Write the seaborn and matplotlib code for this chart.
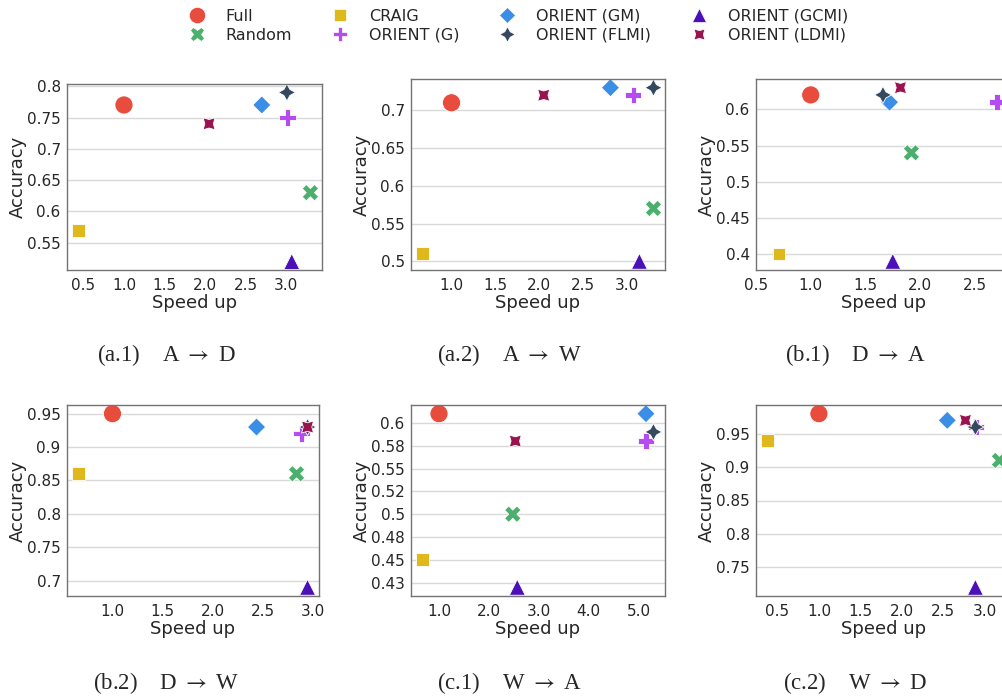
import numpy as np
import pandas as pd
import matplotlib
matplotlib.use("Agg")
import matplotlib.pyplot as plt
import seaborn as sns
from matplotlib.lines import Line2D
from matplotlib.ticker import FuncFormatter, MultipleLocator

# Methods, in plotting / legend order
methods = ["Full", "Random", "CRAIG", "ORIENT (G)", "ORIENT (GM)",
           "ORIENT (FLMI)", "ORIENT (GCMI)", "ORIENT (LDMI)"]

# Speed up / accuracy per transfer task (same order as methods)
ad_speed = [1.0, 3.30, 0.44, 3.02, 2.70, 3.01, 3.07, 2.05]
ad_acc = [0.77, 0.63, 0.57, 0.75, 0.77, 0.79, 0.52, 0.74]

aw_speed = [1.0, 3.30, 0.67, 3.07, 2.81, 3.30, 3.14, 2.05]
aw_acc = [0.71, 0.57, 0.51, 0.72, 0.73, 0.73, 0.50, 0.72]

da_speed = [1.0, 1.92, 0.71, 2.70, 1.72, 1.66, 1.75, 1.82]
da_acc = [0.62, 0.54, 0.40, 0.61, 0.61, 0.62, 0.39, 0.63]

dw_speed = [1.0, 2.84, 0.66, 2.89, 2.44, 2.95, 2.95, 2.95]
dw_acc = [0.95, 0.86, 0.86, 0.92, 0.93, 0.93, 0.69, 0.93]

wa_speed = [1.0, 2.48, 0.67, 5.15, 5.15, 5.30, 2.57, 2.53]
wa_acc = [0.61, 0.50, 0.45, 0.58, 0.61, 0.59, 0.42, 0.58]

wd_speed = [1.0, 3.18, 0.38, 2.90, 2.55, 2.89, 2.89, 2.77]
wd_acc = [0.98, 0.91, 0.94, 0.96, 0.97, 0.96, 0.72, 0.97]

captions = ["(a.1)    A $\\rightarrow$ D", "(a.2)    A $\\rightarrow$ W",
            "(b.1)    D $\\rightarrow$ A", "(b.2)    D $\\rightarrow$ W",
            "(c.1)    W $\\rightarrow$ A", "(c.2)    W $\\rightarrow$ D"]

# W -> A y ticks
wa_yticks = [0.425, 0.45, 0.475, 0.5, 0.525, 0.55, 0.575, 0.6]
wa_ylabels = ["0.43", "0.45", "0.48", "0.5", "0.52", "0.55", "0.58", "0.6"]

colors = {"Full": "#e74c3c", "Random": "#4caf6e", "CRAIG": "#dfb81c",
          "ORIENT (G)": "#b54cf0", "ORIENT (GM)": "#3a8ee6",
          "ORIENT (FLMI)": "#34495e", "ORIENT (GCMI)": "#4b10b8",
          "ORIENT (LDMI)": "#99134f"}
markers = {"Full": "o", "Random": "X", "CRAIG": "s", "ORIENT (G)": "P",
           "ORIENT (GM)": "D", "ORIENT (FLMI)": (4, 1, 0),
           "ORIENT (GCMI)": "^", "ORIENT (LDMI)": (4, 1, 45)}
sizes = {"Full": 170, "Random": 140, "CRAIG": 85, "ORIENT (G)": 140,
         "ORIENT (GM)": 85, "ORIENT (FLMI)": 150, "ORIENT (GCMI)": 130,
         "ORIENT (LDMI)": 150}

sns.set_style("whitegrid", {"axes.edgecolor": "0.45", "grid.color": "0.85"})
plt.rcParams["font.family"] = ["DejaVu Sans"]
plt.rcParams["mathtext.fontset"] = "stix"

fig = plt.figure(figsize=(10.03, 6.98), dpi=100)

# axes boxes in pixels: left, top, right, bottom
boxes = [(67, 84, 322, 270), (411, 79, 665, 270), (756, 79, 1011, 270),
         (67, 405, 319, 596), (411, 405, 665, 596), (756, 405, 1011, 596)]
panels = [(ad_speed, ad_acc), (aw_speed, aw_acc), (da_speed, da_acc),
          (dw_speed, dw_acc), (wa_speed, wa_acc), (wd_speed, wd_acc)]
cap_pos = [(166, 355), (509, 355), (855, 355), (166, 683), (509, 683), (855, 683)]

W, H = 1003, 698
yfmt = FuncFormatter(lambda v, p: f"{v:.2f}".rstrip("0").rstrip("."))
xfmt = FuncFormatter(lambda v, p: f"{v:.1f}")

for i, ((sp, acc), (l, t, r, b)) in enumerate(zip(panels, boxes)):
    ax = fig.add_axes([l / W, 1 - b / H, (r - l) / W, (b - t) / H])
    df = pd.DataFrame({"Speed up": sp, "Accuracy": acc, "method": methods})
    sns.scatterplot(data=df, x="Speed up", y="Accuracy", hue="method",
                    style="method", size="method", palette=colors,
                    markers=markers, sizes=sizes, hue_order=methods,
                    style_order=methods, size_order=methods,
                    legend=False, ax=ax, linewidth=0.6, edgecolor="white")
    ax.grid(axis="x", visible=False)
    ax.grid(axis="y", linewidth=1.0)
    ax.set_xlabel("Speed up", fontsize=13, labelpad=1)
    ax.set_ylabel("Accuracy", fontsize=13, labelpad=0)
    ax.tick_params(labelsize=11, pad=2)
    ax.tick_params(axis="y", pad=1)
    ax.xaxis.set_major_locator(MultipleLocator(1.0 if i == 4 else 0.5))
    ax.xaxis.set_major_formatter(xfmt)
    if i == 4:
        ax.set_yticks(wa_yticks)
        ax.set_yticklabels(wa_ylabels)
    else:
        ax.yaxis.set_major_locator(MultipleLocator(0.05))
        ax.yaxis.set_major_formatter(yfmt)
    if i == 2:
        ax.set_xlim(0.5, 2.83)
    for s in ax.spines.values():
        s.set_linewidth(1.0)
    cx, cy = cap_pos[i]
    fig.text(cx / W, 1 - cy / H, captions[i], ha="center", va="center",
             fontsize=16.5, family=["Liberation Serif", "DejaVu Serif"])

handles = [Line2D([], [], linestyle="none", marker=markers[m], color=colors[m],
                  markeredgecolor="white", markeredgewidth=0.5,
                  markersize=np.sqrt(sizes[m]) * 0.9, label=m)
           for m in methods]
fig.legend(handles=handles, loc="upper center", bbox_to_anchor=(0.513, 1.008),
           ncol=4, frameon=False, fontsize=11.5, labelspacing=0.25,
           columnspacing=2.0, handletextpad=0.8)

fig.savefig("out.png", dpi=100)
